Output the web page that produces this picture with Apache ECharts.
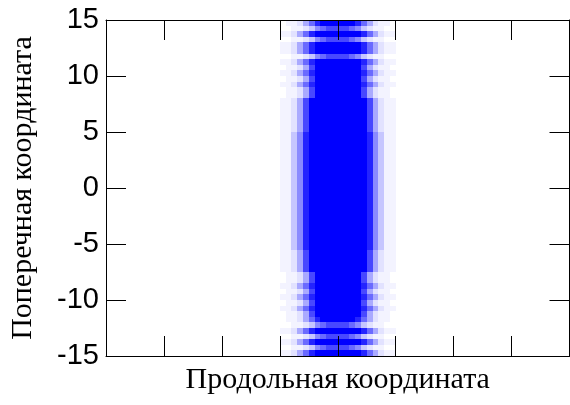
<!DOCTYPE html>
<html>
<head>
<meta charset="utf-8">
<script src="https://cdn.jsdelivr.net/npm/echarts@6/dist/echarts.min.js"></script>
<style>
html,body{margin:0;padding:0;background:#fff;}
#chart{width:570px;height:405px;}
</style>
</head>
<body>
<div id="chart"></div>
<script>
// Axis ticks
var xTicks = [0, 1, 2, 3, 4, 5, 6, 7, 8];
var yTicks = [-15, -10, -5, 0, 5, 10, 15];

// Left edges of intensity columns (longitudinal coordinate)
var xCols = [2.9, 3.0, 3.1, 3.2, 3.3, 3.4, 3.5, 3.6, 3.7, 3.8, 3.9, 4.0,
             4.1, 4.2, 4.3, 4.4, 4.5, 4.6, 4.7, 4.8, 4.9, 5.0, 5.1];
var colWidth = 0.1;

// Top edges of intensity rows (transverse coordinate)
var yRows = [15, 14.5, 14, 13.5, 13, 12.5, 12, 11.5, 11, 10.5,
             10, 9.5, 9, 8.5, 8, 7.5, 7, 6.5, 6, 5.5,
             5, 4.5, 4, 3.5, 3, 2.5, 2, 1.5, 1, 0.5,
             0, -0.5, -1, -1.5, -2, -2.5, -3, -3.5, -4, -4.5,
             -5, -5.5, -6, -6.5, -7, -7.5, -8, -8.5, -9, -9.5,
             -10, -10.5, -11, -11.5, -12, -12.5, -13, -13.5, -14, -14.5];
var rowHeight = 0.5;

// Intensity level (0..9) per row (top to bottom), one digit per column
var intensity = [
  "00112468999999864211000",
  "00011235677776532110000",
  "01124689999999986421100",
  "00011235677776532110000",
  "01124689999999986421100",
  "01124689999999986421100",
  "00011235677776532110000",
  "01124689999999986421100",
  "00112479999999974211000",
  "01124689999999986421100",
  "00112479999999974211000",
  "01124689999999986421100",
  "00112479999999974211000",
  "00112479999999974211000",
  "01124799999999997421100",
  "01124799999999997421100",
  "01124799999999997421100",
  "01124799999999997421100",
  "01124799999999997421100",
  "01124799999999997421100",
  "01135899999999998531100",
  "01135899999999998531100",
  "01135899999999998531100",
  "01135899999999998531100",
  "01135899999999998531100",
  "01135899999999998531100",
  "01135899999999998531100",
  "01135899999999998531100",
  "01135899999999998531100",
  "01135899999999998531100",
  "01135899999999998531100",
  "01135899999999998531100",
  "01135899999999998531100",
  "01135899999999998531100",
  "01135899999999998531100",
  "01135899999999998531100",
  "01135899999999998531100",
  "01135899999999998531100",
  "01135899999999998531100",
  "01135899999999998531100",
  "01135899999999998531100",
  "01124799999999997421100",
  "01124799999999997421100",
  "01124799999999997421100",
  "01124799999999997421100",
  "00112479999999974211000",
  "00112479999999974211000",
  "01124689999999986421100",
  "00112479999999974211000",
  "01124689999999986421100",
  "00112479999999974211000",
  "01124689999999986421100",
  "00112479999999974211000",
  "00112468999999864211000",
  "00011235677776532110000",
  "01124689999999986421100",
  "00011235677776532110000",
  "01124689999999986421100",
  "00011235677776532110000",
  "01124689999999986421100"
];

var xTitle = 'Продольная координата';
var yTitle = 'Поперечная координата';

var cells = [];
for (var i = 0; i < yRows.length; i++) {
  for (var k = 0; k < xCols.length; k++) {
    var v = +intensity[i].charAt(k);
    if (v > 0) cells.push([xCols[k], yRows[i], v]);
  }
}

var chart = echarts.init(document.getElementById('chart'), null, {renderer: 'canvas'});

var axisCommon = {
  type: 'value',
  axisLine: {show: true, onZero: false, lineStyle: {color: '#000', width: 1}},
  axisTick: {show: true, inside: true, length: 20, lineStyle: {color: '#000', width: 1}},
  splitLine: {show: false},
  z: 10
};

function mk(extra) { return Object.assign({}, JSON.parse(JSON.stringify(axisCommon)), extra); }

var option = {
  backgroundColor: '#fff',
  animation: false,
  grid: {left: 102.5, right: 0.5, top: 20, bottom: 49, containLabel: false},
  visualMap: {
    show: false, type: 'continuous', min: 0, max: 9, dimension: 2, seriesIndex: 0,
    inRange: {color: ['#ffffff', '#f3f3ff', '#e2e2ff', '#c6c6ff', '#aaaaff',
                      '#8a8aff', '#6a6aff', '#4848ff', '#2424ff', '#0000ff']}
  },
  xAxis: [
    mk({
      position: 'bottom',
      min: xTicks[0], max: xTicks[xTicks.length - 1], interval: xTicks[1] - xTicks[0],
      axisLabel: {show: false},
      name: xTitle, nameLocation: 'middle', nameGap: 9,
      nameTextStyle: {fontFamily: 'Liberation Serif', fontSize: 30, color: '#000'}
    }),
    mk({
      position: 'top',
      min: xTicks[0], max: xTicks[xTicks.length - 1], interval: xTicks[1] - xTicks[0],
      axisLabel: {show: false}
    })
  ],
  yAxis: [
    mk({
      position: 'left',
      min: yTicks[0], max: yTicks[yTicks.length - 1], interval: yTicks[1] - yTicks[0],
      axisLabel: {show: true, fontFamily: 'Liberation Sans', fontSize: 29, color: '#000', margin: 7},
      name: yTitle, nameLocation: 'middle', nameGap: 68,
      nameTextStyle: {fontFamily: 'Liberation Serif', fontSize: 30, color: '#000'}
    }),
    mk({
      position: 'right',
      min: yTicks[0], max: yTicks[yTicks.length - 1], interval: yTicks[1] - yTicks[0],
      axisLabel: {show: false}
    })
  ],
  series: [{
    type: 'custom',
    xAxisIndex: 0,
    yAxisIndex: 0,
    clip: true,
    data: cells,
    encode: {x: 0, y: 1},
    renderItem: function (params, api) {
      var x0 = api.value(0), y0 = api.value(1);
      var p0 = api.coord([x0, y0]);
      var p1 = api.coord([x0 + colWidth, y0 - rowHeight]);
      var L = Math.round(p0[0]), T = Math.round(p0[1]);
      var R = Math.round(p1[0]), B = Math.round(p1[1]);
      return {
        type: 'rect',
        shape: {x: L, y: T, width: R - L, height: B - T},
        style: {fill: api.visual('color')}
      };
    },
    z: 2
  }]
};
chart.setOption(option);
</script>
</body>
</html>
